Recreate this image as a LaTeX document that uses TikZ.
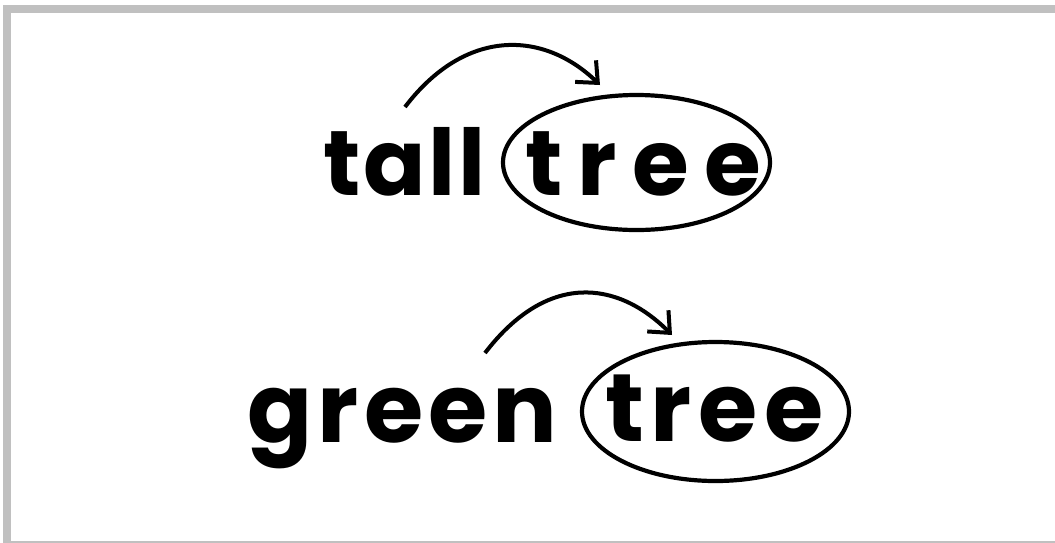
\documentclass[tikz,border=0pt]{standalone}
\usepackage{fontspec}
\setmainfont{Poppins}
\usetikzlibrary{shapes.geometric,arrows.meta}
\definecolor{framegray}{RGB}{192,192,192}
\tikzset{
  word/.style={inner sep=0pt, anchor=base west, font=\bfseries\fontsize{92}{100}\selectfont},
  wordb/.style={inner sep=0pt, anchor=base west, font=\bfseries\fontsize{96}{104}\selectfont},
  ring/.style={draw, ellipse, line width=4.2pt, inner sep=0pt},
  jump/.style={line width=4pt, -{Straight Barb[length=17pt,width=30pt,line width=4pt]}},
}
\begin{document}
\begin{tikzpicture}[x=1pt,y=-1pt]
\useasboundingbox (0,0) rectangle (1055,542);
\clip (0,0) rectangle (1055,542);
\fill[white] (0,0) rectangle (1055,542);
\draw[framegray, line width=8pt] (7,9) rectangle (1062,545);
% line 1
\node[word] (a1) at (323,195) {\addfontfeatures{LetterSpace=3}tall};
\node[word] (t1) at (525,195) {\addfontfeatures{LetterSpace=16.5}tree};
\node[ring, minimum width=267pt, minimum height=135pt] (e1) at (636.5,162.5) {};
\coordinate (s1) at (405,107);
\coordinate (h1) at (600,85);
\draw[jump] (s1) .. controls (465,28) and (543,30) .. (h1);
% line 2
\node[wordb] (a2) at (247,442) {\addfontfeatures{LetterSpace=5.5}green};
\node[wordb] (t2) at (605,441) {\addfontfeatures{LetterSpace=7}tree};
\node[ring, minimum width=267pt, minimum height=139pt] (e2) at (715.5,411.5) {};
\coordinate (s2) at (485,353);
\coordinate (h2) at (672,335);
\draw[jump] (s2) .. controls (547,272) and (617,280) .. (h2);
\end{tikzpicture}
\end{document}
